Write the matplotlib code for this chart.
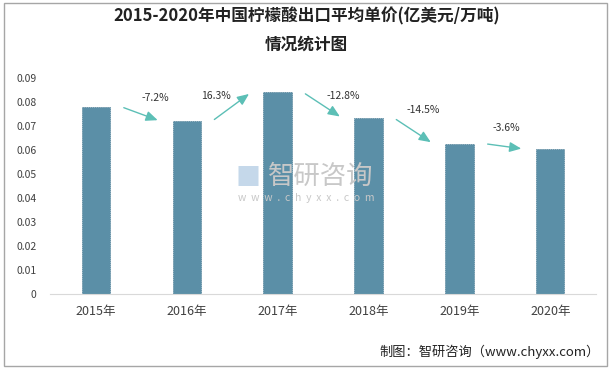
import matplotlib.pyplot as plt
from matplotlib.patches import Rectangle

plt.rcParams['font.family'] = ['Noto Sans CJK SC', 'DejaVu Sans']

# data
years = ['2015年', '2016年', '2017年', '2018年', '2019年', '2020年']
price = [0.078, 0.072, 0.084, 0.0733, 0.0626, 0.0604]
growth = ['-7.2%', '16.3%', '-12.8%', '-14.5%', '-3.6%']

# where the growth labels sit (x shift from arrow middle, y in data units)
lab_dx = [0.16, -0.18, 0.22, 0.10, 0.02]
lab_y = [0.0817, 0.0825, 0.0825, 0.0767, 0.0690]

fig = plt.figure(figsize=(6.13, 3.71), dpi=100)
fig.patches.append(Rectangle((0.006, 0.013), 0.985, 0.98, transform=fig.transFigure,
                             fill=False, edgecolor='#a6a6a6', linewidth=1))
ax = fig.add_axes([0.082, 0.2075, 0.89, 0.5825])

x = range(len(years))
ax.bar(x, price, width=0.31, color='#5b8fa7', edgecolor='#4f7f96', linewidth=0.5,
       linestyle=(0, (2, 1)), zorder=2)

for i in range(len(growth)):
    ax.annotate('', xy=(i + 0.71, price[i + 1]), xytext=(i + 0.28, price[i]),
                arrowprops=dict(arrowstyle='-|>,head_length=0.7,head_width=0.3',
                                color='#5cbfb6', lw=1), zorder=3)
    ax.text(i + 0.5 + lab_dx[i], lab_y[i], growth[i], ha='center', va='center',
            fontsize=7.5, color='#333333')

ax.set_xlim(-0.5, 5.5)
ax.set_ylim(0, 0.09)
ax.set_yticks([i / 100 for i in range(10)])
ax.set_yticklabels(['0'] + ['0.0%d' % i for i in range(1, 10)])
ax.set_xticks(list(x))
ax.set_xticklabels(years)
ax.tick_params(axis='y', length=0, labelsize=7.5, labelcolor='#404040', pad=10)
ax.tick_params(axis='x', length=0, labelsize=9, labelcolor='#404040', pad=8)
for s in ['left', 'right', 'top']:
    ax.spines[s].set_visible(False)
ax.spines['bottom'].set_color('#d9d9d9')

# watermark
fig.text(0.523, 0.525, '智研咨询', fontsize=19, color='#c8c8c8', ha='center', va='center')
fig.text(0.50, 0.467, 'w  w  w  .  c  h  y  x  x  .  c  o  m', fontsize=7.5,
         color='#c8c8c8', ha='center', va='center')
fig.text(0.405, 0.52, '■', fontsize=18, color='#c5d8ea', ha='center', va='center')

fig.text(0.5, 0.955, '2015-2020年中国柠檬酸出口平均单价(亿美元/万吨)', fontsize=12,
         fontweight='bold', ha='center', va='center', color='#222222')
fig.text(0.5, 0.88, '情况统计图', fontsize=12, fontweight='bold', ha='center',
         va='center', color='#222222')
fig.text(0.978, 0.052, '制图：智研咨询（www.chyxx.com）', fontsize=9.5, ha='right',
         va='center', color='#222222')

fig.savefig('out.png', dpi=100)
